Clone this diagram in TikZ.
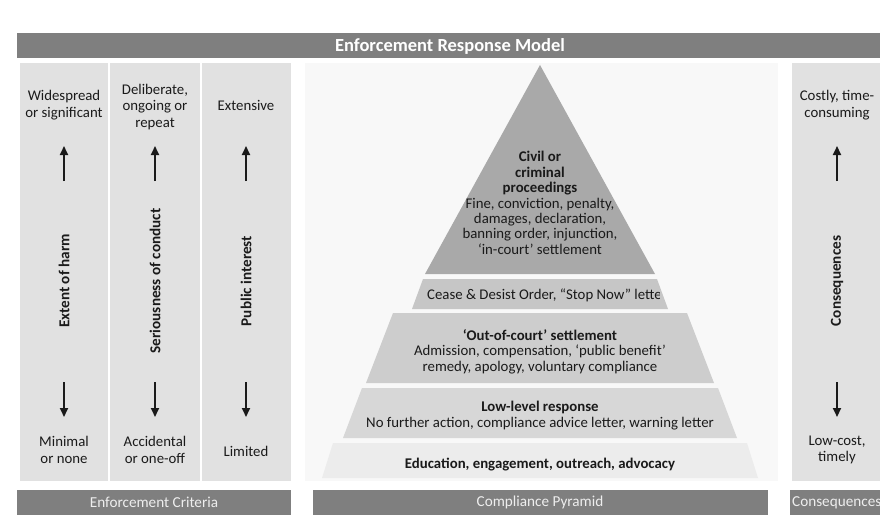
\documentclass[tikz,border=0pt]{standalone}
\usepackage{fontspec}
\setmainfont{Carlito}
\usetikzlibrary{arrows.meta}
\definecolor{banner}{HTML}{7F7F7F}
\definecolor{bannertext}{HTML}{EEEEEE}
\definecolor{panel}{HTML}{E1E1E1}
\definecolor{midpanel}{HTML}{F8F8F8}
\definecolor{tierA}{HTML}{A9A9A9}
\definecolor{tierB}{HTML}{C6C6C6}
\definecolor{tierC}{HTML}{CDCDCD}
\definecolor{tierD}{HTML}{D7D7D7}
\definecolor{tierE}{HTML}{ECECEC}
\definecolor{ink}{HTML}{1A1A1A}
\begin{document}
\begin{tikzpicture}[x=1pt,y=-1pt,
  bannerbox/.style={fill=banner,draw=none},
  bannerlabel/.style={text=bannertext,font=\fontsize{15.2}{17}\selectfont,inner sep=0pt},
  lbl/.style={font=\fontsize{14.8}{16.3}\selectfont,align=center,inner sep=0pt,text=ink},
  plbl/.style={font=\fontsize{14.8}{15.4}\selectfont,align=center,inner sep=0pt,text=ink},
  vlbl/.style={font=\bfseries\fontsize{15.2}{17}\selectfont,rotate=90,inner sep=0pt,text=ink},
  updown/.style={line width=2.1pt,draw=ink,-{Triangle[length=9pt,width=8pt]}},
]
\useasboundingbox (0,0) rectangle (884,527);
\fill[white] (0,0) rectangle (884,527);

% banners
\fill[bannerbox] (17,33) rectangle (880,58);
\node[font=\bfseries\fontsize{18.5}{20}\selectfont,text=white,inner sep=0pt] (title) at (450,46) {Enforcement Response Model};

\fill[bannerbox] (17,490) rectangle (291,515);
\fill[bannerbox] (313,490) rectangle (768,515);
\fill[bannerbox] (790,490) rectangle (880,515);
\node[bannerlabel] (crit) at (154,502.5) {Enforcement Criteria};
\node[bannerlabel] (pyr) at (540,502.5) {Compliance Pyramid};
\begin{scope}
  \clip (790,490) rectangle (879,515);
  \node[bannerlabel,anchor=west] (conslbl) at (792,502.5) {Consequences};
\end{scope}

% panels
\fill[panel] (20,63) rectangle (108,481);
\fill[panel] (110,63) rectangle (200,481);
\fill[panel] (202,63) rectangle (291,481);
\fill[panel] (792,63) rectangle (880,481);
\fill[midpanel] (305,63) rectangle (778,481);

% pyramid tiers
\fill[tierA] (540,65) -- (655,274) -- (425,274) -- cycle;
\fill[tierB] (423,279) -- (657,279) -- (668,309) -- (412,309) -- cycle;
\fill[tierC] (393,313) -- (687,313) -- (714,383) -- (366,383) -- cycle;
\fill[tierD] (362,388) -- (718,388) -- (737,438) -- (343,438) -- cycle;
\fill[tierE] (333,443) -- (747,443) -- (758,478) -- (322,478) -- cycle;

% pyramid texts
\node[plbl] (civil) at (540,203) {\textbf{Civil or}\\\textbf{criminal}\\\textbf{proceedings}\\Fine, conviction, penalty,\\damages, declaration,\\banning order, injunction,\\‘in-court’ settlement};
\begin{scope}
  \clip (410,279) rectangle (659,309);
  \node[plbl,anchor=west] (cease) at (427,295) {Cease \& Desist Order, “Stop Now” letter};
\end{scope}
\node[plbl] (outcourt) at (540,351.5) {\textbf{‘Out-of-court’ settlement}\\Admission, compensation, ‘public benefit’\\remedy, apology, voluntary compliance};
\node[plbl] (lowlevel) at (540,415.5) {\textbf{Low-level response}\\No further action, compliance advice letter, warning letter};
\node[plbl,font=\bfseries\fontsize{14.8}{15.4}\selectfont] (educ) at (540,465) {Education, engagement, outreach, advocacy};

% left criteria columns
\node[lbl] (harmhi) at (64,105) {Widespread\\or significant};
\node[lbl] (condhi) at (155,107) {Deliberate,\\ongoing or\\repeat};
\node[lbl] (pubhi) at (246,105) {Extensive};
\node[vlbl] (harm) at (64,281) {Extent of harm};
\node[vlbl] (cond) at (155,281) {Seriousness of conduct};
\node[vlbl] (pub) at (246,281) {Public interest};
\node[lbl] (harmlo) at (64,450) {Minimal\\or none};
\node[lbl] (condlo) at (155,450) {Accidental\\or one-off};
\node[lbl] (publo) at (246,451) {Limited};

% right consequences column
\node[lbl] (conshi) at (837,105) {Costly, time-\\consuming};
\node[vlbl] (cons) at (837,281) {Consequences};
\node[lbl] (conslo) at (837,450) {Low-cost,\\timely};

% arrows
\foreach \n/\x in {a/64,b/155,c/246,d/837}{
  \coordinate (up\n s) at (\x,181);
  \coordinate (up\n e) at (\x,146);
  \coordinate (dn\n s) at (\x,382);
  \coordinate (dn\n e) at (\x,417);
  \draw[updown] (up\n s) -- (up\n e);
  \draw[updown] (dn\n s) -- (dn\n e);
}
\end{tikzpicture}
\end{document}
